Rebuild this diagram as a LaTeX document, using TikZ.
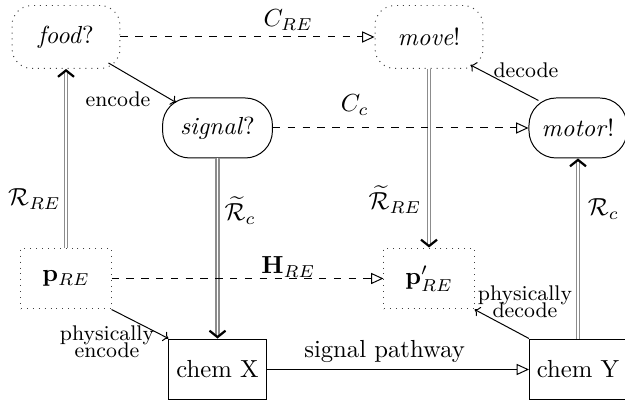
\documentclass[tikz,border=0pt]{standalone}
\usetikzlibrary{arrows.meta,calc}
\begin{document}
\begin{tikzpicture}[x=0.405pt,y=-0.405pt,
  dotbox/.style={draw=black!75, dotted, minimum width=43.7pt, minimum height=25.5pt, rounded corners=8pt, inner sep=0pt},
  roundbox/.style={draw, rounded corners=11pt, minimum height=24.3pt, inner sep=0pt},
  sqbox/.style={draw, minimum width=39.3pt, minimum height=24.7pt, inner sep=0pt},
  pbox/.style={draw=black!75, dotted, minimum width=36.5pt, minimum height=24.7pt, inner sep=0pt},
  dbl/.style={draw=black!45, double, double distance=0.55pt, line width=0.65pt, -{Straight Barb[black,length=2.6pt,width=6.5pt,line width=0.9pt]}},
  corr/.style={dashed, -{Triangle[open,length=5pt,width=4.5pt]}},
  path/.style={-{Triangle[open,length=5pt,width=4.5pt]}},
  enc/.style={-{To[length=2pt]}},
  lab/.style={font={\fontsize{8.6pt}{7pt}\selectfont\lineskiplimit=-20pt}, align=center, inner sep=0pt},
  elab/.style={inner sep=0pt, anchor=center}
]
\useasboundingbox (0,0) rectangle (625,403);

\node[dotbox] (food) at (66,37) {\textit{food}?};
\node[dotbox] (move) at (429,37) {\textit{move}!};
\node[roundbox, minimum width=44.5pt] (signal) at (217.5,128) {\textit{signal}?};
\node[roundbox, minimum width=39.7pt] (motor) at (578,128) {\textit{motor}!};
\node[pbox] (p) at (66,278.5) {$\mathbf{p}_{RE}$};
\node[pbox] (pp) at (429,278.5) {$\mathbf{p}'_{RE}$};
\node[sqbox] (cx) at (217.5,369.5) {chem X};
\node[sqbox] (cy) at (578,369.5) {chem Y};

% double (realisation) arrows
\draw[dbl] (p) -- (food) node[elab, pos=0.27, xshift=-12.8pt] {$\mathcal{R}_{RE}$};
\draw[dbl] (signal) -- (cx) node[elab, pos=0.29, xshift=9.2pt] {$\widetilde{\mathcal{R}}_c$};
\draw[dbl] (move) -- (pp) node[elab, pos=0.73, xshift=-13.8pt] {$\widetilde{\mathcal{R}}_{RE}$};
\draw[dbl] (cy) -- (motor) node[elab, pos=0.72, xshift=10.3pt] {$\mathcal{R}_c$};

% dashed correspondences
\draw[corr] (food) -- (move) node[elab, pos=0.66, yshift=6.9pt] {$C_{RE}$};
\draw[corr] (signal) -- (motor) node[elab, pos=0.32, yshift=9.3pt] {$C_c$};
\draw[corr] (p) -- (pp) node[elab, pos=0.65, yshift=4.5pt] {$\mathbf{H}_{RE}$};

% signal pathway
\draw[path] (cx) -- (cy) node[elab, pos=0.45, yshift=7.1pt] {signal pathway};

% encode / decode
\draw[enc] ($(food.south east)+(-12,-6)$) -- ($(signal.north west)+(14,5)$);
\draw[enc] ($(motor.north west)+(10,3)$) -- ($(move.south east)+(-13,-4)$);
\draw[enc] (p.south east) -- (cx.north west);
\draw[enc] (cy.north west) -- (pp.south east);

\node[lab] (encl) at (118,99) {encode};
\node[lab] (decl) at (526,70) {decode};
\node[lab] (pencl) at (107,342) {physically\\encode};
\node[lab] (pdecl) at (525,302) {physically\\decode};
\end{tikzpicture}
\end{document}
